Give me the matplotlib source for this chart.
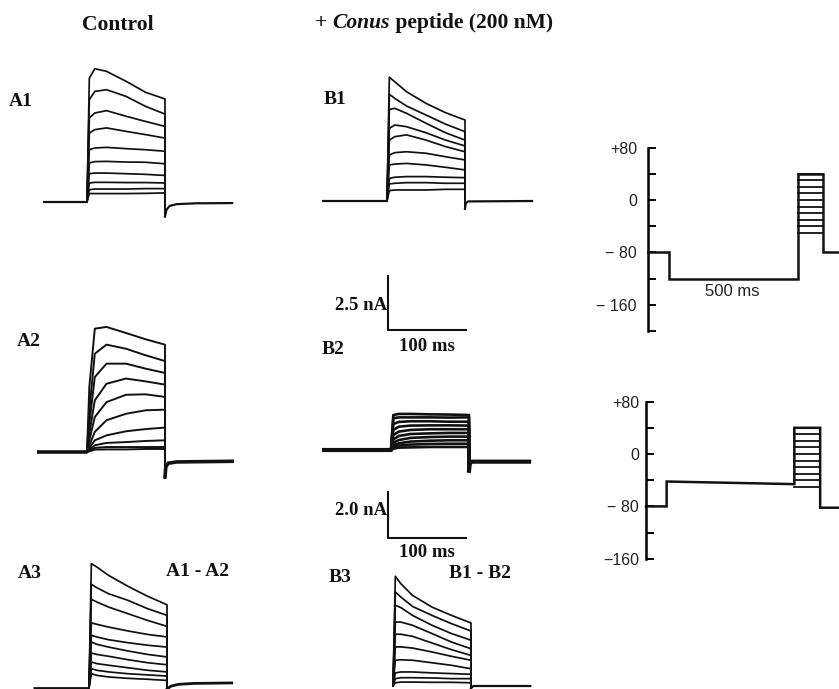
import numpy as np
import matplotlib
matplotlib.use("Agg")
import matplotlib.pyplot as plt

# ---------------- data ----------------
# sample times (ms after test-pulse onset) for every current trace
T_PULSE = [3, 10, 25, 50, 75, 100]

# currents in nA, one row per test potential (largest first)
A1_TRACES = [
    [5.74, 6.17, 6.05, 5.59, 5.08, 4.77],
    [4.74, 5.12, 5.20, 4.89, 4.43, 4.07],
    [3.89, 4.12, 4.23, 3.97, 3.73, 3.50],
    [3.19, 3.35, 3.43, 3.27, 3.12, 2.96],
    [2.42, 2.50, 2.53, 2.47, 2.42, 2.35],
    [1.81, 1.87, 1.88, 1.85, 1.84, 1.77],
    [1.31, 1.34, 1.34, 1.31, 1.28, 1.23],
    [0.88, 0.91, 0.91, 0.90, 0.90, 0.88],
    [0.57, 0.60, 0.60, 0.60, 0.62, 0.62],
    [0.39, 0.39, 0.39, 0.39, 0.40, 0.42],
]
A2_TRACES = [
    [3.01, 5.71, 5.79, 5.51, 5.22, 4.97],
    [1.93, 4.55, 4.97, 4.78, 4.48, 4.21],
    [1.31, 3.47, 4.09, 4.09, 3.86, 3.66],
    [0.85, 2.39, 3.16, 3.40, 3.27, 3.12],
    [0.54, 1.62, 2.31, 2.65, 2.67, 2.55],
    [0.31, 0.93, 1.47, 1.77, 1.93, 1.96],
    [0.19, 0.54, 0.77, 0.96, 1.06, 1.13],
    [0.11, 0.31, 0.42, 0.46, 0.51, 0.54],
    [0.06, 0.19, 0.23, 0.23, 0.23, 0.23],
    [0.03, 0.11, 0.12, 0.12, 0.14, 0.14],
]
A3_TRACES = [
    [5.41, 5.26, 4.90, 4.42, 3.99, 3.62],
    [4.51, 4.36, 4.10, 3.81, 3.45, 3.16],
    [3.86, 3.74, 3.52, 3.23, 2.94, 2.68],
    [2.83, 2.77, 2.65, 2.48, 2.33, 2.22],
    [2.29, 2.22, 2.10, 1.97, 1.86, 1.78],
    [2.00, 1.90, 1.78, 1.61, 1.46, 1.35],
    [1.52, 1.46, 1.38, 1.23, 1.10, 1.01],
    [1.13, 1.06, 0.99, 0.88, 0.77, 0.70],
    [0.84, 0.77, 0.70, 0.62, 0.57, 0.52],
    [0.62, 0.55, 0.48, 0.42, 0.38, 0.33],
]
B1_TRACES = [
    [5.73, 5.52, 5.06, 4.52, 4.09, 3.75],
    [4.94, 4.75, 4.40, 3.98, 3.56, 3.21],
    [4.24, 4.29, 4.06, 3.60, 3.16, 2.82],
    [3.36, 3.52, 3.44, 3.16, 2.82, 2.55],
    [2.82, 2.98, 3.06, 2.82, 2.52, 2.28],
    [2.13, 2.24, 2.28, 2.21, 2.05, 1.90],
    [1.67, 1.71, 1.74, 1.67, 1.56, 1.44],
    [1.05, 1.10, 1.13, 1.13, 1.10, 1.08],
    [0.79, 0.82, 0.85, 0.85, 0.82, 0.82],
    [0.48, 0.51, 0.51, 0.51, 0.54, 0.54],
]
B2_TRACES = [
    [1.62, 1.67, 1.67, 1.65, 1.64, 1.62],
    [1.47, 1.51, 1.51, 1.51, 1.50, 1.51],
    [1.20, 1.30, 1.33, 1.33, 1.31, 1.31],
    [0.93, 1.08, 1.13, 1.14, 1.14, 1.13],
    [0.69, 0.85, 0.93, 0.96, 0.96, 0.96],
    [0.49, 0.65, 0.74, 0.77, 0.79, 0.79],
    [0.34, 0.46, 0.56, 0.60, 0.62, 0.62],
    [0.22, 0.31, 0.39, 0.43, 0.45, 0.45],
    [0.14, 0.20, 0.25, 0.28, 0.29, 0.29],
    [0.06, 0.11, 0.12, 0.14, 0.14, 0.14],
]
B3_TRACES = [
    [4.77, 4.45, 3.94, 3.43, 3.07, 2.74],
    [4.09, 3.87, 3.46, 3.07, 2.71, 2.39],
    [3.51, 3.41, 3.07, 2.64, 2.28, 1.99],
    [2.78, 2.78, 2.64, 2.28, 1.91, 1.62],
    [2.25, 2.25, 2.16, 1.87, 1.58, 1.33],
    [1.70, 1.70, 1.65, 1.48, 1.29, 1.12],
    [1.12, 1.14, 1.12, 1.01, 0.90, 0.75],
    [0.57, 0.61, 0.61, 0.57, 0.54, 0.51],
    [0.32, 0.36, 0.36, 0.35, 0.32, 0.32],
    [0.14, 0.17, 0.17, 0.16, 0.16, 0.14],
]

# baseline before the pulse starts at (ms), tail currents after the pulse
A1_PRE, A2_PRE, A3_PRE = -56, -64, -72
B1_PRE, B2_PRE, B3_PRE = -83, -88, None
A1_TAIL_T = [100, 102, 106, 115, 140, 186]
A1_TAIL_I = [-0.66, -0.35, -0.18, -0.10, -0.06, -0.05]
A2_TAIL_T = [100, 101, 104, 115, 186]
A2_TAIL_I = [-1.16, -0.70, -0.52, -0.46, -0.43]
A3_TAIL_T = [100, 105, 115, 135, 183]
A3_TAIL_I = [-0.05, 0.08, 0.16, 0.20, 0.22]
B1_TAIL_T = [100, 101, 104, 186]
B1_TAIL_I = [-0.34, -0.10, -0.02, 0.0]
B2_TAIL_T = [100, 101, 103, 177]
B2_TAIL_I = [-0.96, -0.65, -0.54, -0.54]
B3_TAIL_T = [100, 103, 176]
B3_TAIL_I = [-0.10, 0.0, 0.0]

# scale bars
BAR1_NA, BAR2_NA, BAR_MS = 2.5, 2.0, 100

# voltage protocols (ms, mV)
P1_T = [0, 80, 80, 580, 580, 680, 680, 790]
P1_V = [-80, -80, -120, -120, 40, 40, -80, -80]
P2_T = [0, 80, 80, 575, 575, 675, 675, 790]
P2_V = [-80, -80, -42, -46, 40, 40, -82, -82]
TEST_V = [40, 30, 20, 10, 0, -10, -20, -30, -40, -50]
P1_TICKS = [80, 40, 0, -40, -80, -120, -160, -200]
P1_LABELS = ["+80", "", "0", "", "\u2212 80", "", "\u2212 160", ""]
P2_TICKS = [80, 40, 0, -40, -80, -120, -160]
P2_LABELS = ["+80", "", "0", "", "\u2212 80", "", "\u2212160"]

# ---------------- layout ----------------
W, H = 839, 689
fig = plt.figure(figsize=(W / 100, H / 100), dpi=100)
INK = "#111111"
SERIF = dict(family="Liberation Serif", weight="bold", color=INK)
SANS = dict(family="Liberation Sans", color="#222222")
KX = 0.78      # px per ms (current traces)
KXP = 0.258    # px per ms (protocols)
KYP = 0.655    # px per mV


def px_axes(left, top, right, bottom):
    ax = fig.add_axes([left / W, 1 - bottom / H, (right - left) / W, (bottom - top) / H])
    ax.patch.set_alpha(0)
    return ax


def trace_axes(onset, base, ky):
    left, right, top, bottom = onset - 100, onset + 165, base - 165, base + 40
    ax = px_axes(left, top, right, bottom)
    ax.set_xlim((left - onset) / KX, (right - onset) / KX)
    ax.set_ylim((base - bottom) / ky, (base - top) / ky)
    ax.axis("off")
    return ax


def draw_panel(ax, pre, traces, tail_t, tail_i, lw=1.1, base_lw=1.4):
    if pre is not None:
        ax.plot([pre, 0], [0, 0], color=INK, lw=base_lw, solid_capstyle="butt")
    for tr in traces:
        t = [0] + T_PULSE + [T_PULSE[-1]]
        i = [0] + list(tr) + [tail_i[0]]
        ax.plot(t, i, color=INK, lw=lw, solid_joinstyle="round")
    ax.plot(tail_t, tail_i, color=INK, lw=base_lw)


KY12, KY3 = 21.6, 23.0
panels = [
    (87, 202, KY12, A1_PRE, A1_TRACES, A1_TAIL_T, A1_TAIL_I, 1.25, 1.6),
    (87, 452, KY12, A2_PRE, A2_TRACES, A2_TAIL_T, A2_TAIL_I, 1.4, 2.6),
    (89, 688, KY3, A3_PRE, A3_TRACES, A3_TAIL_T, A3_TAIL_I, 1.25, 2.0),
    (387, 201, KY12, B1_PRE, B1_TRACES, B1_TAIL_T, B1_TAIL_I, 1.25, 1.6),
    (391, 450, KY12, B2_PRE, B2_TRACES, B2_TAIL_T, B2_TAIL_I, 1.9, 3.0),
    (393, 686, KY3, B3_PRE, B3_TRACES, B3_TAIL_T, B3_TAIL_I, 1.25, 1.6),
]
for onset, base, ky, pre, trs, tt, ti, lw, blw in panels:
    ax = trace_axes(onset, base, ky)
    draw_panel(ax, pre, trs, tt, ti, lw, blw)

# scale bars
for corner_y, ky, amp, lab_y, ms_y in [(330, KY12, BAR1_NA, 1.15, -0.75),
                                       (538, KY3, BAR2_NA, 1.2, -0.62)]:
    ax = trace_axes(388, corner_y, ky)
    ax.plot([0, 0, BAR_MS], [amp, 0, 0], color=INK, lw=1.5)
    ax.text(-1.5, lab_y, f"{amp:.1f} nA", ha="right", va="center", fontsize=13.5, **SERIF)
    ax.text(BAR_MS / 2, ms_y, f"{BAR_MS} ms", ha="center", va="center", fontsize=13.5, **SERIF)


# voltage protocols
def proto_axes(axis_x, zero_y, top, bottom):
    ax = px_axes(axis_x - 12, top, W, bottom)
    ax.set_xlim(-12 / KXP, (W - axis_x) / KXP)
    ax.set_ylim((zero_y - bottom) / KYP, (zero_y - top) / KYP)
    for s in ["top", "right", "bottom"]:
        ax.spines[s].set_visible(False)
    ax.spines["left"].set_position(("data", 0))
    ax.spines["left"].set_linewidth(1.8)
    ax.set_xticks([])
    return ax


for axis_x, zero_y, top, bottom, pt, pv, ticks, labels, pad in [
        (648, 200, 135, 345, P1_T, P1_V, P1_TICKS, P1_LABELS, 8),
        (646, 454, 390, 575, P2_T, P2_V, P2_TICKS, P2_LABELS, 5)]:
    ax = proto_axes(axis_x, zero_y, top, bottom)
    ax.spines["left"].set_bounds(ticks[-1], ticks[0])
    ax.set_yticks(ticks)
    ax.set_yticklabels(labels, fontsize=11.5, **SANS)
    ax.tick_params(axis="y", direction="in", length=6, width=1.4, pad=pad)
    ax.plot(pt, pv, color=INK, lw=1.8, solid_joinstyle="miter")
    for v in TEST_V:
        ax.plot([pt[4], pt[5]], [v, v], color=INK, lw=1.3)
    if pt is P1_T:
        ax.text((pt[2] + pt[3]) / 2 - 5, -140, "500 ms", ha="center", va="center",
                fontsize=12, **SANS)

# ---------------- labels ----------------
lab = px_axes(0, 0, W, H)
lab.set_xlim(0, W)
lab.set_ylim(H, 0)
lab.axis("off")

lab.text(118, 25, "Control", ha="center", va="center", fontsize=15.5, **SERIF)
t1 = lab.text(315, 33, "+ ", ha="left", va="bottom", fontsize=15.5, **SERIF)
t2 = lab.annotate("Conus", xy=(1, 0), xycoords=t1, ha="left", va="bottom",
                  fontsize=15.5, style="italic", **SERIF)
lab.annotate(" peptide (200 nM)", xy=(1, 0), xycoords=t2, ha="left", va="bottom",
             fontsize=15.5, **SERIF)

for txt, x, y in [("A1", 21, 101), ("B1", 335, 100), ("A2", 29, 342), ("B2", 333, 350),
                  ("A3", 30, 574), ("A1 - A2", 198, 572), ("B3", 340, 578),
                  ("B1 - B2", 480, 573)]:
    lab.text(x, y, txt, ha="center", va="center", fontsize=14, **SERIF)

fig.savefig("out.png", dpi=100, facecolor="white")
